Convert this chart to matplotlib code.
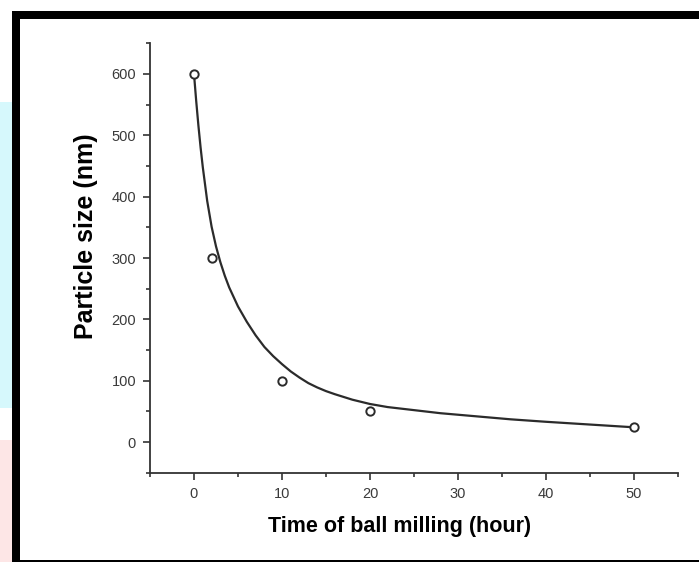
import matplotlib
matplotlib.use("Agg")
import matplotlib.pyplot as plt
from matplotlib.patches import Rectangle
from matplotlib.ticker import MultipleLocator

# measured points
hours = [0, 2, 10, 20, 50]
size_nm = [600, 300, 100, 50, 25]

# fitted curve
curve_x = [0, 0.25, 0.5, 0.75, 1, 1.5, 2, 2.5, 3, 3.5, 4, 5, 6, 7, 8, 9, 10,
           11, 12, 13, 14, 15, 16, 18, 20, 22, 25, 28, 32, 36, 40, 45, 50]
curve_y = [600, 556, 516, 480, 448, 393, 351, 319, 293, 271, 252, 221, 196,
           174, 155, 140, 127, 115, 105, 96, 89, 83, 78, 69, 62, 57, 52, 47,
           42, 37, 33, 28.5, 24]

plt.rcParams['font.family'] = ['Liberation Sans', 'DejaVu Sans']

fig = plt.figure(figsize=(6.99, 5.62), dpi=100)
W, H = 699, 562

def px_rect(x0, y0, x1, y1, color):
    fig.patches.append(Rectangle((x0 / W, 1 - y1 / H), (x1 - x0) / W, (y1 - y0) / H,
                                 transform=fig.transFigure, color=color, lw=0, zorder=0))

# background decoration and black frame
px_rect(0, 102, 11.5, 408, '#d6f8fc')
px_rect(0, 440, 11.5, 562, '#fde6e6')
px_rect(11.5, 10.5, 699, 18.5, 'black')
px_rect(11.5, 10.5, 19.5, 562, 'black')
px_rect(11.5, 559.5, 699, 562, 'black')

ax = fig.add_axes([150 / W, 1 - 472.7 / H, 528 / W, 429.4 / H])
ax.patch.set_alpha(0)

ax.plot(curve_x, curve_y, color='#2b2b2b', lw=1.6, zorder=2,
        solid_joinstyle='round')
ax.plot(hours, size_nm, 'o', mfc='white', mec='#2b2b2b', mew=1.4, ms=6, zorder=3)

ax.set_xlim(-5, 55)
ax.set_ylim(-50, 650)
ax.xaxis.set_minor_locator(MultipleLocator(5))
ax.yaxis.set_minor_locator(MultipleLocator(50))
ax.set_xticks([0, 10, 20, 30, 40, 50])
ax.set_yticks([0, 100, 200, 300, 400, 500, 600])

for s in ['top', 'right']:
    ax.spines[s].set_visible(False)
for s in ['left', 'bottom']:
    ax.spines[s].set_color('#333333')
    ax.spines[s].set_linewidth(1.3)

ax.tick_params(which='major', direction='out', length=5, width=1.2, color='#333333',
               labelsize=10.5, labelcolor='#3a3a3a', pad=5)
ax.tick_params(which='minor', direction='out', length=3, width=1.2, color='#333333')

ax.set_xlabel('Time of ball milling (hour)', fontsize=15.5, fontweight='bold')
ax.set_ylabel('Particle size (nm)', fontsize=18, fontweight='bold')
ax.xaxis.set_label_coords(0.473, -0.101)
ax.yaxis.set_label_coords(-0.0985, 0.551)

fig.savefig('out.png', dpi=100)
